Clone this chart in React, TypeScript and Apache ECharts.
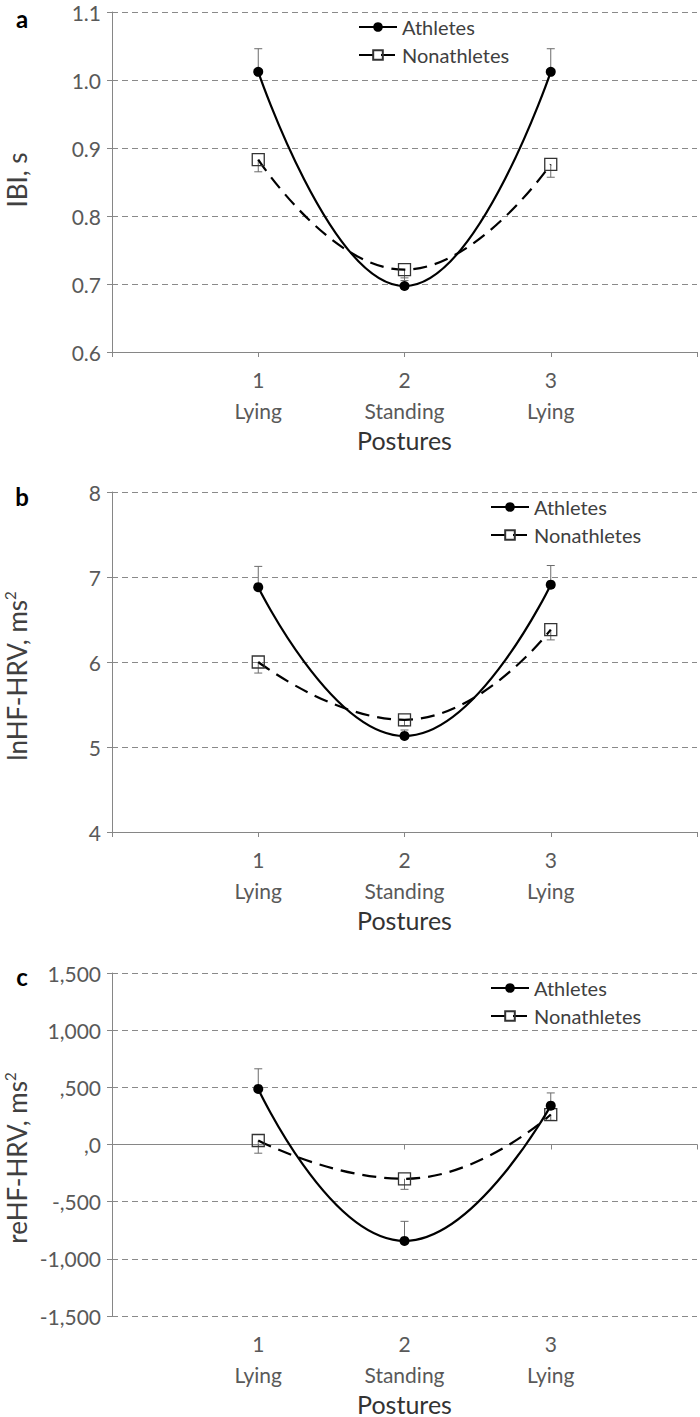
import React, { useEffect, useRef } from "react";
import * as echarts from "echarts";

// ---- data ----
const xPositions = [1, 2, 3];
const postureNumbers = ["1", "2", "3"];
const postureNames = ["Lying", "Standing", "Lying"];

const ibiAthletes = [1.012, 0.697, 1.012];
const ibiAthletesErr = [0.034, 0.012, 0.034];
const ibiNonathletes = [0.883, 0.721, 0.876];
const ibiNonathletesErr = [0.018, 0.016, 0.019];

const lnAthletes = [6.88, 5.13, 6.91];
const lnAthletesErr = [0.245, 0.07, 0.225];
const lnNonathletes = [6.0, 5.32, 6.38];
const lnNonathletesErr = [0.13, 0.07, 0.12];

const reAthletes = [486, -843, 340];
const reAthletesErr = [176, 171, 111];
const reNonathletes = [35, -300, 262];
const reNonathletesErr = [111, 92, 50];

const reTickValues = [1500, 1000, 500, 0, -500, -1000, -1500];
const reTickLabels = ["1,500", "1,000", ",500", ",0", "-,500", "-1,000", "-1,500"];

const FONT = "Lato, 'Open Sans', sans-serif";
const AXIS_COLOR = "#868686";
const LABEL_COLOR = "#595959";

function App() {
  const ref = useRef<HTMLDivElement>(null);

  useEffect(() => {
    document.body.style.margin = "0";
    const chart = echarts.init(ref.current!, null, { renderer: "svg" });

    const grids = [
      { left: 112, top: 12, width: 585, height: 340 },
      { left: 112, top: 492, width: 585, height: 340 },
      { left: 112, top: 973, width: 585, height: 345 },
    ];

    const xLabelFormatter = (v: number) => {
      const i = xPositions.indexOf(v);
      if (i < 0) return "";
      return `{n|${postureNumbers[i]}}\n{p|${postureNames[i]}}`;
    };
    const xLabelRich = {
      n: { fontSize: 21, color: LABEL_COLOR, fontFamily: FONT, lineHeight: 31 },
      p: { fontSize: 21, color: LABEL_COLOR, fontFamily: FONT, lineHeight: 31 },
    };

    const makeX = (gridIndex: number, opts: any = {}) => ({
      type: "value",
      gridIndex,
      position: "bottom",
      min: 0,
      max: 4,
      interval: 1,
      splitLine: { show: false },
      axisLine: { show: true, onZero: false, lineStyle: { color: AXIS_COLOR, width: 1 } },
      axisTick: { show: true, length: 5, lineStyle: { color: AXIS_COLOR } },
      axisLabel: { formatter: xLabelFormatter, rich: xLabelRich, margin: 12 },
      name: "Postures",
      nameLocation: "middle",
      nameGap: 75,
      nameTextStyle: { fontSize: 25, color: "#333", fontFamily: FONT },
      ...opts,
    });

    const yCommon = {
      type: "value",
      axisLine: { show: true, lineStyle: { color: AXIS_COLOR, width: 1 } },
      axisTick: { show: true, length: 5, lineStyle: { color: AXIS_COLOR } },
      splitLine: { show: true, lineStyle: { color: "#8a8a8a", width: 1.2, type: [6, 4] } },
      axisLabel: { fontSize: 21, color: LABEL_COLOR, fontFamily: FONT, margin: 11 },
    };

    const xAxis = [
      makeX(0),
      makeX(1),
      makeX(2, {
        axisLine: { show: true, onZero: true, lineStyle: { color: AXIS_COLOR, width: 1 } },
        axisLabel: { show: false },
        name: "",
      }),
      makeX(2, { axisLine: { show: false, onZero: false }, axisTick: { show: false } }),
    ];

    const yAxis = [
      {
        ...yCommon,
        gridIndex: 0,
        min: 0.6,
        max: 1.1,
        interval: 0.1,
        axisLabel: { ...yCommon.axisLabel, formatter: (v: number) => v.toFixed(1) },
      },
      { ...yCommon, gridIndex: 1, min: 4, max: 8, interval: 1 },
      {
        ...yCommon,
        gridIndex: 2,
        min: -1500,
        max: 1500,
        interval: 500,
        axisLabel: {
          ...yCommon.axisLabel,
          formatter: (v: number) => {
            const i = reTickValues.indexOf(Math.round(v));
            return i >= 0 ? reTickLabels[i] : "";
          },
        },
      },
    ];

    const toPts = (vals: number[]) => vals.map((v, i) => [xPositions[i], v]);
    const errData = (vals: number[], errs: number[], dir: number) =>
      vals.map((v, i) => [xPositions[i], v, errs[i], dir]);

    const errorSeries = (xi: number, yi: number, vals: number[], errs: number[], dir: number) => ({
      type: "custom",
      xAxisIndex: xi,
      yAxisIndex: yi,
      z: 1,
      silent: true,
      encode: { x: 0, y: 1 },
      data: errData(vals, errs, dir),
      renderItem: (params: any, api: any) => {
        const x = api.value(0);
        const y = api.value(1);
        const e = api.value(2);
        const d = api.value(3);
        const p0 = api.coord([x, y]);
        const p1 = api.coord([x, y + d * e]);
        const st = { stroke: "#6b6b6b", lineWidth: 1 };
        return {
          type: "group",
          children: [
            { type: "line", shape: { x1: p0[0], y1: p0[1], x2: p1[0], y2: p1[1] }, style: st },
            { type: "line", shape: { x1: p1[0] - 4, y1: p1[1], x2: p1[0] + 4, y2: p1[1] }, style: st },
          ],
        };
      },
    });

    const athletesLine = (xi: number, yi: number, vals: number[]) => ({
      name: "Athletes",
      type: "line",
      xAxisIndex: xi,
      yAxisIndex: yi,
      data: toPts(vals),
      smooth: 0.5,
      z: 3,
      symbol: "circle",
      symbolSize: 10,
      lineStyle: { color: "#000", width: 2.2 },
      itemStyle: { color: "#000" },
    });

    const nonLine = (xi: number, yi: number, vals: number[]) => ({
      name: "Nonathletes",
      type: "line",
      xAxisIndex: xi,
      yAxisIndex: yi,
      data: toPts(vals),
      smooth: 0.5,
      z: 2,
      symbol: "rect",
      symbolSize: 12,
      lineStyle: { color: "#000", width: 2.2, type: [14, 8] },
      itemStyle: { color: "rgba(255,255,255,0)", borderColor: "#333", borderWidth: 1.3 },
    });

    const series: any[] = [
      errorSeries(0, 0, ibiAthletes, ibiAthletesErr, 1),
      errorSeries(0, 0, ibiNonathletes, ibiNonathletesErr, -1),
      athletesLine(0, 0, ibiAthletes),
      nonLine(0, 0, ibiNonathletes),
      errorSeries(1, 1, lnAthletes, lnAthletesErr, 1),
      errorSeries(1, 1, lnNonathletes, lnNonathletesErr, -1),
      athletesLine(1, 1, lnAthletes),
      nonLine(1, 1, lnNonathletes),
      errorSeries(2, 2, reAthletes, reAthletesErr, 1),
      errorSeries(2, 2, reNonathletes, reNonathletesErr, -1),
      athletesLine(2, 2, reAthletes),
      nonLine(2, 2, reNonathletes),
    ];

    const legendCommon = {
      orient: "vertical",
      itemWidth: 38,
      itemHeight: 12,
      itemGap: 8,
      padding: 0,
      selectedMode: false,
      data: ["Athletes", "Nonathletes"],
      textStyle: { fontSize: 20, color: "#404040", fontFamily: FONT, lineHeight: 20 },
    };

    const supRich = {
      sup: { fontSize: 15, fontFamily: FONT, fill: "#404040", padding: [0, 0, 14, 0] },
    };
    const yTitle = (text: string, x: number, y: number) => ({
      type: "text",
      x,
      y,
      rotation: Math.PI / 2,
      style: {
        text,
        fontSize: 26,
        fontFamily: FONT,
        fill: "#404040",
        align: "center",
        verticalAlign: "middle",
        rich: supRich,
      },
    });
    const panelLabel = (text: string, x: number, y: number) => ({
      type: "text",
      x,
      y,
      style: {
        text,
        fontSize: 24,
        fontWeight: "bold",
        fontFamily: FONT,
        fill: "#000",
        align: "center",
        verticalAlign: "middle",
      },
    });

    chart.setOption({
      animation: false,
      grid: grids,
      xAxis,
      yAxis,
      series,
      legend: [
        { ...legendCommon, left: 358, top: 17 },
        { ...legendCommon, left: 490, top: 497 },
        { ...legendCommon, left: 490, top: 978 },
      ],
      graphic: [
        panelLabel("a", 22, 18),
        panelLabel("b", 22, 496),
        panelLabel("c", 22, 976),
        yTitle("IBI, s", 17, 180),
        yTitle("lnHF-HRV, ms{sup|2}", 17, 676),
        yTitle("reHF-HRV, ms{sup|2}", 17, 1158),
      ],
    });

    return () => chart.dispose();
  }, []);

  return <div ref={ref} style={{ width: 700, height: 1417 }} />;
}

export default App;
